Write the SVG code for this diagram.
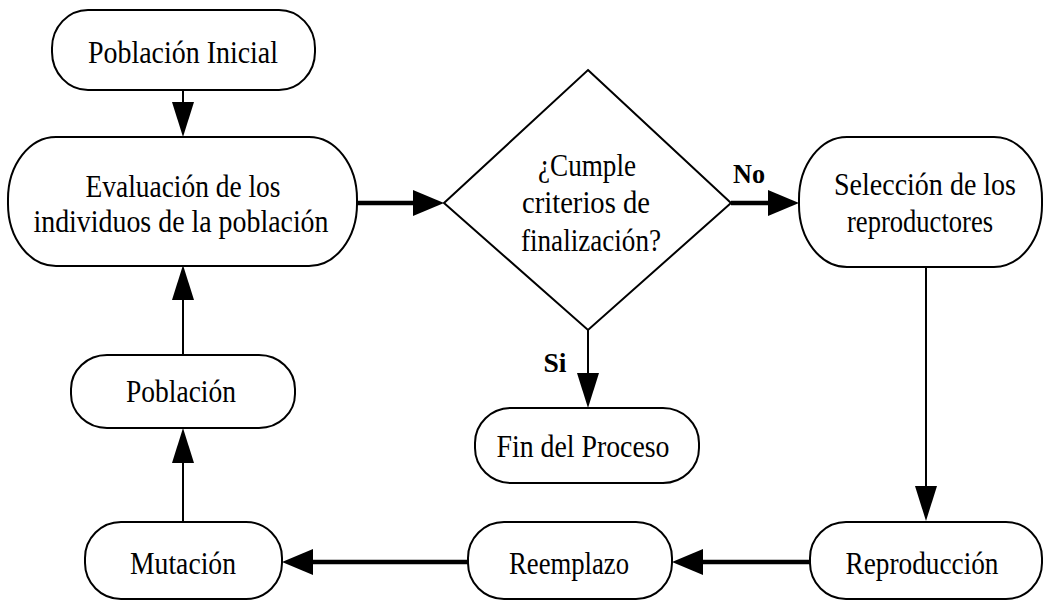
<svg xmlns="http://www.w3.org/2000/svg" width="1044" height="601" viewBox="0 0 1044 601">
<defs>
<style>
.box{fill:#fff;stroke:#000;stroke-width:2}
.t{font-family:"Liberation Serif","Times New Roman",serif;font-size:32px;fill:#000;text-anchor:middle}
.lbl{font-family:"Liberation Serif","Times New Roman",serif;font-size:28px;font-weight:bold;fill:#000;text-anchor:middle}
.thin{stroke:#000;stroke-width:2;fill:none}
.thick{stroke:#000;stroke-width:4.5;fill:none}
</style>
<marker id="ah" markerUnits="userSpaceOnUse" markerWidth="36" markerHeight="22" refX="0" refY="11" orient="auto">
<path d="M0,0 L35,11 L0,22 z" fill="#000"/>
</marker>
<marker id="ahw" markerUnits="userSpaceOnUse" markerWidth="32" markerHeight="26" refX="0" refY="13" orient="auto">
<path d="M0,0 L31,13 L0,26 z" fill="#000"/>
</marker>
</defs>
<rect width="1044" height="601" fill="#fff"/>
<g id="connectors">
<line class="thin" x1="183" y1="90" x2="183" y2="102" marker-end="url(#ah)"/>
<line class="thick" x1="357" y1="203" x2="413" y2="203" marker-end="url(#ahw)"/>
<line class="thick" x1="731" y1="203" x2="768" y2="203" marker-end="url(#ahw)"/>
<line class="thin" x1="588" y1="330" x2="588" y2="373" marker-end="url(#ah)"/>
<line class="thin" x1="926" y1="267" x2="926" y2="486" marker-end="url(#ah)"/>
<line class="thick" x1="810" y1="562" x2="703" y2="562" marker-end="url(#ahw)"/>
<line class="thick" x1="468" y1="562" x2="313" y2="562" marker-end="url(#ahw)"/>
<line class="thin" x1="183" y1="522" x2="183" y2="463" marker-end="url(#ah)"/>
<line class="thin" x1="183" y1="355" x2="183" y2="300" marker-end="url(#ah)"/>
<text class="lbl" x="749" y="183" textLength="32" lengthAdjust="spacingAndGlyphs">No</text>
<text class="lbl" x="555" y="372" textLength="23" lengthAdjust="spacingAndGlyphs">Si</text>
</g>
<g id="n-poblacion-inicial">
<rect class="box" x="52" y="10" width="263" height="80" rx="36" ry="38"/>
<text class="t" x="183" y="63" textLength="190" lengthAdjust="spacingAndGlyphs">Población Inicial</text>
</g>
<g id="n-evaluacion">
<rect class="box" x="8" y="137" width="349" height="129" rx="48" ry="62"/>
<text class="t" x="183" y="197" textLength="195" lengthAdjust="spacingAndGlyphs">Evaluación de los</text>
<text class="t" x="181" y="232" textLength="295" lengthAdjust="spacingAndGlyphs">individuos de la población</text>
</g>
<g id="n-decision">
<polygon class="box" points="588,70 731,203 588,330 444,203"/>
<text class="t" x="587" y="176" textLength="98" lengthAdjust="spacingAndGlyphs">¿Cumple</text>
<text class="t" x="586" y="213" textLength="128" lengthAdjust="spacingAndGlyphs">criterios de</text>
<text class="t" x="591" y="251" textLength="140" lengthAdjust="spacingAndGlyphs">finalización?</text>
</g>
<g id="n-seleccion">
<rect class="box" x="799" y="137" width="243" height="130" rx="48" ry="62"/>
<text class="t" x="925" y="195" textLength="182" lengthAdjust="spacingAndGlyphs">Selección de los</text>
<text class="t" x="920" y="232" textLength="146" lengthAdjust="spacingAndGlyphs">reproductores</text>
</g>
<g id="n-poblacion">
<rect class="box" x="71" y="355" width="224" height="73" rx="36" ry="34"/>
<text class="t" x="181" y="402" textLength="110" lengthAdjust="spacingAndGlyphs">Población</text>
</g>
<g id="n-fin">
<rect class="box" x="475" y="408" width="224" height="75" rx="36" ry="35"/>
<text class="t" x="583" y="457" textLength="173" lengthAdjust="spacingAndGlyphs">Fin del Proceso</text>
</g>
<g id="n-mutacion">
<rect class="box" x="85" y="522" width="197" height="77" rx="36" ry="36"/>
<text class="t" x="183" y="574" textLength="106" lengthAdjust="spacingAndGlyphs">Mutación</text>
</g>
<g id="n-reemplazo">
<rect class="box" x="468" y="522" width="204" height="77" rx="36" ry="36"/>
<text class="t" x="569" y="574" textLength="120" lengthAdjust="spacingAndGlyphs">Reemplazo</text>
</g>
<g id="n-reproduccion">
<rect class="box" x="810" y="522" width="232" height="77" rx="36" ry="36"/>
<text class="t" x="922" y="574" textLength="153" lengthAdjust="spacingAndGlyphs">Reproducción</text>
</g>
</svg>
